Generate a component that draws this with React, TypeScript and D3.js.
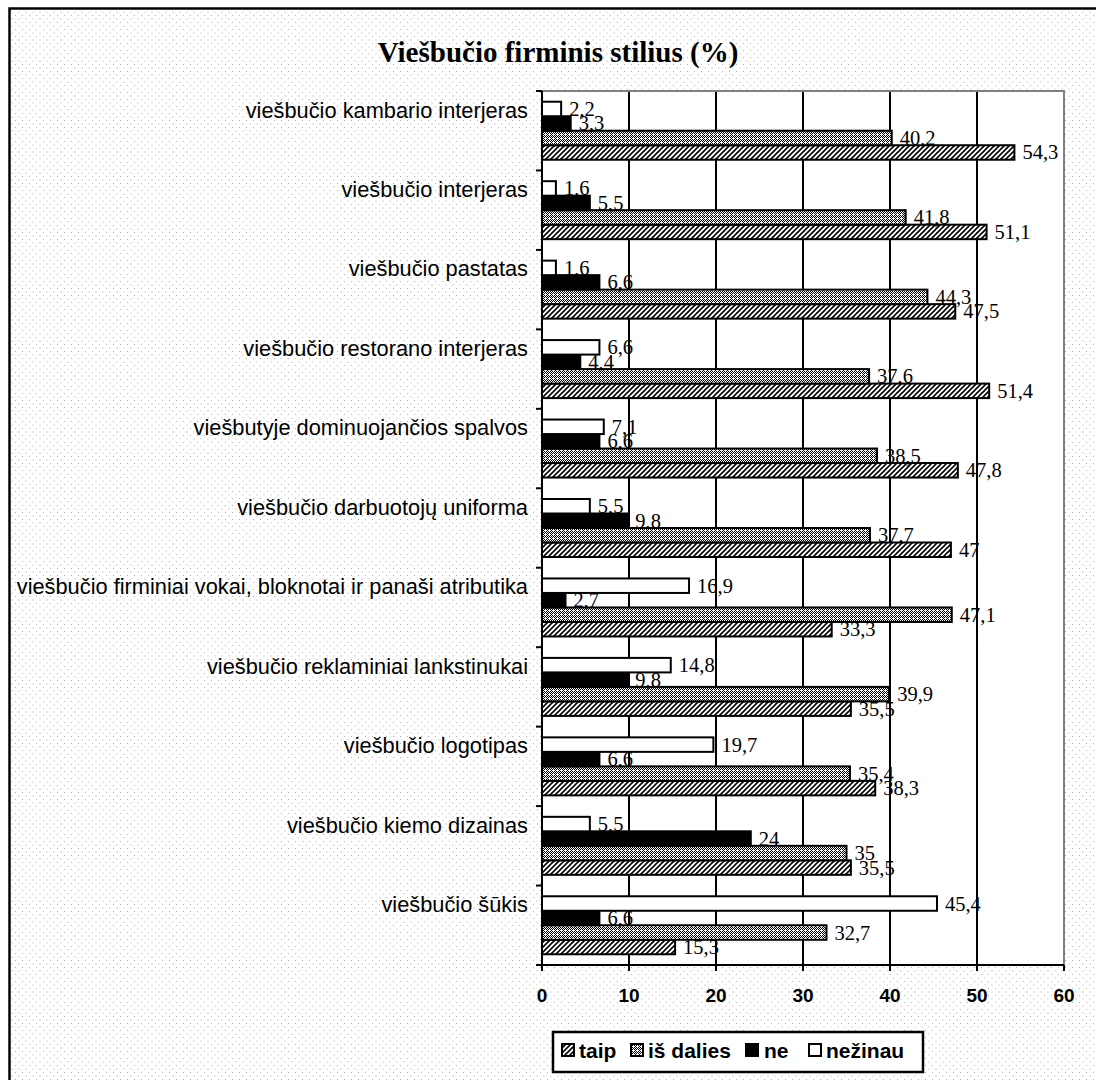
import React from "react";
import * as d3 from "d3";

const categories = [
  "viešbučio kambario interjeras",
  "viešbučio interjeras",
  "viešbučio pastatas",
  "viešbučio restorano interjeras",
  "viešbutyje dominuojančios spalvos",
  "viešbučio darbuotojų uniforma",
  "viešbučio firminiai vokai, bloknotai ir panaši atributika",
  "viešbučio reklaminiai lankstinukai",
  "viešbučio logotipas",
  "viešbučio kiemo dizainas",
  "viešbučio šūkis",
];
const taip = [54.3, 51.1, 47.5, 51.4, 47.8, 47, 33.3, 35.5, 38.3, 35.5, 15.3];
const isDalies = [40.2, 41.8, 44.3, 37.6, 38.5, 37.7, 47.1, 39.9, 35.4, 35, 32.7];
const ne = [3.3, 5.5, 6.6, 4.4, 6.6, 9.8, 2.7, 9.8, 6.6, 24, 6.6];
const nezinau = [2.2, 1.6, 1.6, 6.6, 7.1, 5.5, 16.9, 14.8, 19.7, 5.5, 45.4];
const seriesNames = ["taip", "iš dalies", "ne", "nežinau"];
const xTicks = [0, 10, 20, 30, 40, 50, 60];
const title = "Viešbučio firminis stilius (%)";

const W = 1096;
const H = 1080;
const L = 542;
const R = 1064;
const T = 91;
const B = 965;

const fills = ["url(#hatch)", "url(#dots)", "#000", "#fff"];
const seriesValues = [taip, isDalies, ne, nezinau];
// vertical order within a group, top to bottom: nežinau, ne, iš dalies, taip
const slotOf = ["3", "2", "1", "0"];

const fmt = (v: number) => String(v).replace(".", ",");

const whitePix: [number, number][] = [
  [0, 0], [2, 0], [1, 1], [3, 1], [0, 2], [2, 2], [1, 3], [3, 3], [1, 2],
];

export default function App() {
  const x = d3.scaleLinear().domain([0, 60]).range([L, R]);
  const y = d3.scaleBand<string>().domain(categories).range([T, B]).padding(0);
  const bw = y.bandwidth();
  const inner = d3
    .scaleBand<string>()
    .domain(["0", "1", "2", "3"])
    .range([bw * 0.135, bw * 0.865])
    .padding(0);
  const bh = inner.bandwidth();

  const drawOrder = [0, 1, 2, 3];

  const legendItems = [
    { i: 0, sx: 562, tx: 579 },
    { i: 1, sx: 631, tx: 648 },
    { i: 2, sx: 746, tx: 764 },
    { i: 3, sx: 809, tx: 826 },
  ];

  return (
    <svg
      width={W}
      height={H}
      style={{ position: "absolute", left: 0, top: 0, display: "block" }}
    >
      <defs>
        <pattern id="bg" width={7} height={7} patternUnits="userSpaceOnUse">
          <rect x={0} y={0} width={7} height={7} fill="#fff" />
          <rect x={1} y={1} width={1} height={1} fill="#b0b0b0" />
          <rect x={4.5} y={4.5} width={1} height={1} fill="#b0b0b0" />
        </pattern>
        <pattern id="hatch" width={5} height={5} patternUnits="userSpaceOnUse">
          <rect width={5} height={5} fill="#fff" />
          <path d="M-1,1 l2,-2 M0,5 l5,-5 M4,6 l2,-2" stroke="#000" strokeWidth={1.6} />
        </pattern>
        <pattern id="dots" width={4} height={4} patternUnits="userSpaceOnUse">
          <rect width={4} height={4} fill="#000" />
          {whitePix.map(([px, py], k) => (
            <rect key={k} x={px} y={py} width={1} height={1} fill="#fff" />
          ))}
        </pattern>
      </defs>

      <rect x={0} y={0} width={W} height={H} fill="#fff" />
      <rect x={10} y={9} width={W} height={H} fill="url(#bg)" />
      <path d={`M9.5,${H} V8.5 H${W}`} fill="none" stroke="#000" strokeWidth={2.5} />

      <text
        x={558}
        y={62}
        textAnchor="middle"
        fontFamily="'Liberation Serif', 'Times New Roman', serif"
        fontWeight="bold"
        fontSize={29}
      >
        {title}
      </text>

      {/* plot area */}
      <rect x={L} y={T} width={R - L} height={B - T} fill="#fff" />
      {xTicks.slice(1, -1).map((t) => (
        <line key={t} x1={x(t)} x2={x(t)} y1={T} y2={B} stroke="#000" strokeWidth={2} />
      ))}
      <path d={`M${L},${T} H${R} V${B}`} fill="none" stroke="#808080" strokeWidth={2} />

      {drawOrder.map((si) => (
        <g key={si}>
          {categories.map((c, ci) => {
            const v = seriesValues[si][ci];
            const yy = (y(c) as number) + (inner(slotOf[si]) as number);
            return (
              <g key={c}>
                <rect
                  x={x(0)}
                  y={yy}
                  width={x(v) - x(0)}
                  height={bh}
                  fill={fills[si]}
                  stroke="#000"
                  strokeWidth={2}
                />
                <text
                  x={x(v) + 8}
                  y={yy + bh / 2 + 7}
                  fontFamily="'Liberation Serif', 'Times New Roman', serif"
                  fontSize={20.5}
                >
                  {fmt(v)}
                </text>
              </g>
            );
          })}
        </g>
      ))}

      {/* axes */}
      <line x1={L} x2={L} y1={T} y2={B} stroke="#000" strokeWidth={2} />
      <line x1={L} x2={R} y1={B} y2={B} stroke="#000" strokeWidth={2} />
      {categories.map((c) => (
        <line
          key={c}
          x1={L - 6}
          x2={L}
          y1={y(c) as number}
          y2={y(c) as number}
          stroke="#000"
          strokeWidth={2}
        />
      ))}
      <line x1={L - 6} x2={L} y1={B} y2={B} stroke="#000" strokeWidth={2} />
      {xTicks.map((t) => (
        <g key={t}>
          <line x1={x(t)} x2={x(t)} y1={B} y2={B + 6} stroke="#000" strokeWidth={2} />
          <text
            x={x(t)}
            y={1002}
            textAnchor="middle"
            fontFamily="'Liberation Sans', Arial, sans-serif"
            fontWeight="bold"
            fontSize={19}
          >
            {t}
          </text>
        </g>
      ))}

      {categories.map((c) => (
        <text
          key={c}
          x={528}
          y={(y(c) as number) + 26.5}
          textAnchor="end"
          fontFamily="'Liberation Sans', Arial, sans-serif"
          fontSize={21.8}
        >
          {c}
        </text>
      ))}

      {/* legend */}
      <rect x={553} y={1032} width={370} height={40} fill="#fff" stroke="#000" strokeWidth={2.5} />
      {legendItems.map((it) => (
        <g key={it.i}>
          <rect
            x={it.sx}
            y={1044}
            width={12}
            height={12}
            fill={fills[it.i]}
            stroke="#000"
            strokeWidth={2}
          />
          <text
            x={it.tx}
            y={1058}
            fontFamily="'Liberation Sans', Arial, sans-serif"
            fontWeight="bold"
            fontSize={21}
          >
            {seriesNames[it.i]}
          </text>
        </g>
      ))}
    </svg>
  );
}
